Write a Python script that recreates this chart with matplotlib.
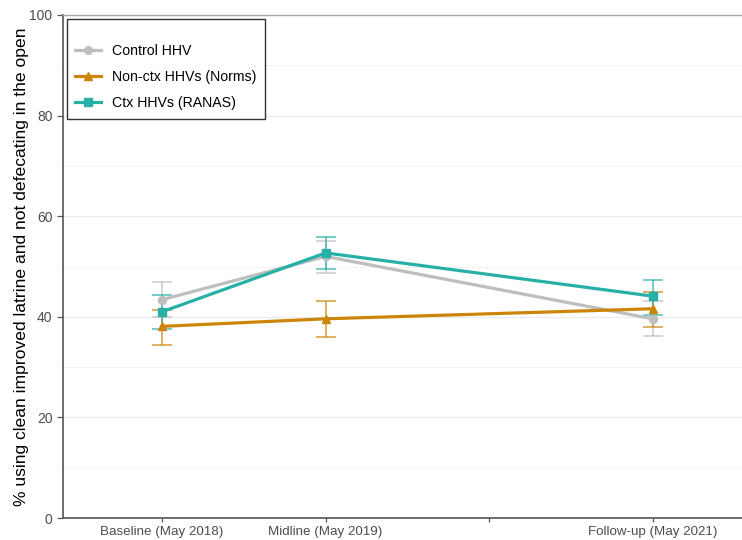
import numpy as np
import matplotlib
matplotlib.use("Agg")
import matplotlib.pyplot as plt
from matplotlib.lines import Line2D

plt.rcParams['font.family'] = ['Liberation Sans', 'DejaVu Sans']

# survey rounds (decimal years, all in May)
rounds = [2018 + 4/12, 2019 + 4/12, 2021 + 4/12]
tick_pos = [2018 + 4/12, 2019 + 4/12, 2020 + 4/12, 2021 + 4/12]
tick_labels = ['Baseline (May 2018)', 'Midline (May 2019)', '', 'Follow-up (May 2021)']

series_names = ['Control HHV', 'Non-ctx HHVs (Norms)', 'Ctx HHVs (RANAS)']
control = [43.4, 52.0, 39.6]
control_lo = [39.9, 48.7, 36.1]
control_hi = [46.9, 55.0, 43.1]
norms = [38.1, 39.6, 41.6]
norms_lo = [34.3, 35.9, 38.0]
norms_hi = [41.4, 43.1, 45.0]
ranas = [41.0, 52.7, 44.1]
ranas_lo = [37.6, 49.5, 40.3]
ranas_hi = [44.3, 55.8, 47.3]

colors = ['#BEBEBE', '#CC8508', '#26B0A6']
markers = ['o', '^', 's']

fig = plt.figure(figsize=(7.42, 5.40), dpi=100)
ax = fig.add_axes([63/742, 1 - 518/540, 1 - 63/742, (518 - 15)/540])

data = [(control, control_lo, control_hi),
        (norms, norms_lo, norms_hi),
        (ranas, ranas_lo, ranas_hi)]

handles = []
for (vals, lo, hi), name, c, m in zip(data, series_names, colors, markers):
    vals = np.array(vals)
    err = [vals - np.array(lo), np.array(hi) - vals]
    ax.errorbar(rounds, vals, yerr=err, fmt='none', ecolor=c, elinewidth=1.2,
                capsize=7, capthick=1.2, alpha=0.75, zorder=2)
    ax.plot(rounds, vals, color=c, lw=2.3, marker=m, ms=5.8, zorder=3)
    handles.append(Line2D([0], [0], color=c, lw=2.3, marker=m, ms=5.5))

ax.set_xlim(rounds[0] - 0.605, rounds[-1] + 0.544)
ax.set_ylim(0, 100)
ax.set_yticks([0, 20, 40, 60, 80, 100])
ax.set_yticks([10, 30, 50, 70, 90], minor=True)
ax.set_xticks(tick_pos)
ax.set_xticklabels(tick_labels)

ax.grid(axis='y', which='major', color='#EBEBEB', lw=0.9)
ax.grid(axis='y', which='minor', color='#F3F3F3', lw=0.7)
ax.set_axisbelow(True)

for s in ['left', 'bottom']:
    ax.spines[s].set_color('#555555')
    ax.spines[s].set_linewidth(1.2)
ax.spines['top'].set_color('#AAAAAA')
ax.spines['top'].set_linewidth(1.0)
ax.spines['right'].set_visible(False)

ax.tick_params(axis='both', which='major', colors='#555555', labelcolor='#4D4D4D',
               labelsize=10, length=4, width=0.9)
ax.tick_params(axis='x', labelsize=9.6, length=3, pad=3)
ax.tick_params(axis='y', which='minor', length=0)

ax.set_ylabel('% using clean improved latrine and not defecating in the open',
              fontsize=12.6, color='black', labelpad=0.5)

leg = ax.legend(handles, series_names, loc='upper left', bbox_to_anchor=(0.0, 1.0),
                frameon=True, fancybox=False, fontsize=10.2, title=' ',
                title_fontsize=4, handlelength=1.8, borderpad=0.6,
                labelspacing=0.85, handletextpad=0.8, borderaxespad=0.25)
leg.get_frame().set_edgecolor('black')
leg.get_frame().set_linewidth(1.0)

fig.savefig('out.png', dpi=100)
